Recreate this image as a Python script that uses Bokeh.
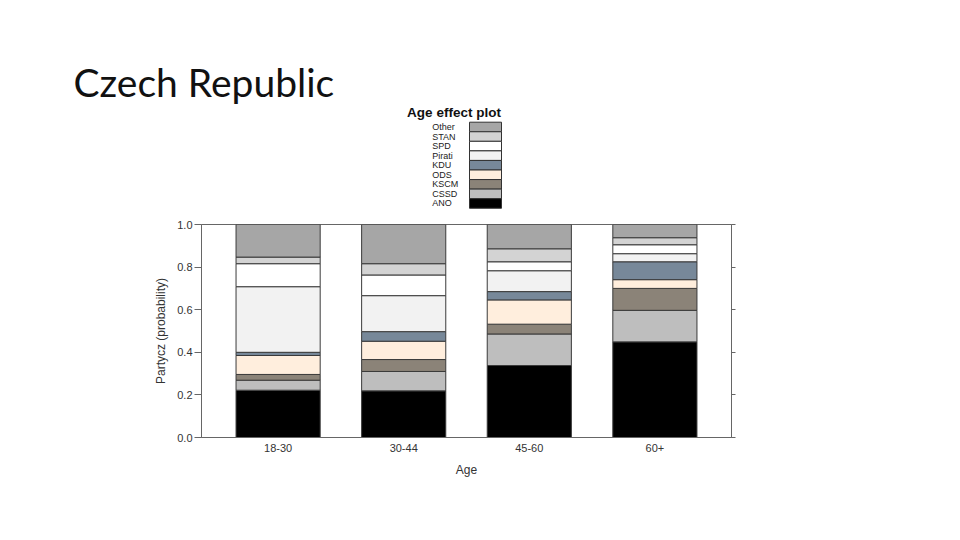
from bokeh.plotting import figure
from bokeh.models import (FactorRange, Range1d, LinearAxis, FixedTicker, PrintfTickFormatter,
                          ColumnDataSource)
from bokeh.layouts import column, row
from bokeh.core.properties import value
from bokeh.embed import file_html
from bokeh.resources import INLINE

# ---------------- data ----------------
ages = ["18-30", "30-44", "45-60", "60+"]
parties = ["ANO", "CSSD", "KSCM", "ODS", "KDU", "Pirati", "SPD", "STAN", "Other"]
party_colors = ["#000000", "#bebebe", "#8b8378", "#ffeedd", "#778899",
                "#f2f2f2", "#ffffff", "#d3d3d3", "#a6a6a6"]

ano    = [0.222, 0.219, 0.338, 0.449]
cssd   = [0.047, 0.091, 0.148, 0.148]
kscm   = [0.027, 0.056, 0.046, 0.103]
ods    = [0.089, 0.086, 0.114, 0.041]
kdu    = [0.015, 0.045, 0.039, 0.084]
pirati = [0.308, 0.169, 0.098, 0.038]
spd    = [0.108, 0.097, 0.042, 0.042]
stan   = [0.031, 0.053, 0.061, 0.033]
other  = [0.153, 0.184, 0.114, 0.062]

y_ticks = [0.0, 0.2, 0.4, 0.6, 0.8, 1.0]

slide_title = "Czech Republic"
plot_title = "Age effect plot"
y_label = "Partycz (probability)"
x_label = "Age"

W = 944
TOP_H = 214

# ---------------- top: title and legend (page-pixel coordinates) ----------------
top = figure(width=W, height=TOP_H, x_range=Range1d(0, W), y_range=Range1d(TOP_H, 0),
             output_backend="svg", toolbar_location=None, min_border=0,
             x_axis_location=None, y_axis_location=None, outline_line_color=None)
top.grid.visible = False

top.text(x=[73], y=[81], text=[slide_title], text_font=value("Lato"),
         text_font_size="39px", text_baseline="middle", text_color="#111111")
top.text(x=[453.5], y=[112], text=[plot_title], text_font=value("Liberation Sans"),
         text_font_size="13.5px", text_font_style="bold", text_align="center",
         text_baseline="middle", text_color="#111111")

leg_labels = parties[::-1]
leg_colors = party_colors[::-1]
row_h = 9.56
row0 = 121.7
tops = [row0 + i * row_h for i in range(len(leg_labels))]
bots = [t + row_h for t in tops]
mids = [t + row_h / 2 for t in tops]
top.quad(left=469, right=501, top=tops, bottom=bots, fill_color=leg_colors,
         line_color="#333333", line_width=1)
top.text(x=[431.7] * len(leg_labels), y=mids, text=leg_labels,
         text_font=value("Liberation Sans"), text_font_size="9px",
         text_baseline="middle", text_color="#222222")

# ---------------- bottom: stacked bar chart ----------------
src = ColumnDataSource(dict(age=ages, ANO=ano, CSSD=cssd, KSCM=kscm, ODS=ods, KDU=kdu,
                            Pirati=pirati, SPD=spd, STAN=stan, Other=other))

p = figure(x_range=FactorRange(factors=ages, range_padding=0.11, range_padding_units="absolute"),
           y_range=Range1d(0, 1), width=W, height=310, output_backend="svg",
           toolbar_location=None, min_border_left=201, min_border_right=213,
           min_border_top=10, min_border_bottom=87)
p.grid.visible = False
p.outline_line_color = "#666666"
p.outline_line_width = 1

p.vbar_stack(parties, x="age", width=0.67, source=src, fill_color=party_colors,
             line_color="#3a3a3a", line_width=1)

yl = p.yaxis[0]
yl.ticker = FixedTicker(ticks=y_ticks)
yl.formatter = PrintfTickFormatter(format="%.1f")
yl.major_tick_out = 7
yl.major_tick_in = 0
yl.minor_tick_line_color = None
yl.major_label_standoff = 2
yl.axis_line_color = "#666666"
yl.major_tick_line_color = "#666666"
yl.major_label_text_font = "Liberation Sans"
yl.major_label_text_font_size = "11px"
yl.major_label_text_color = "#333333"
yl.axis_label = y_label
yl.axis_label_text_font = "Liberation Sans"
yl.axis_label_text_font_size = "12px"
yl.axis_label_text_font_style = "normal"
yl.axis_label_text_color = "#333333"
yl.axis_label_standoff = 6

yr = LinearAxis(ticker=FixedTicker(ticks=y_ticks))
yr.major_tick_out = 4
yr.major_tick_in = 0
yr.minor_tick_line_color = None
yr.major_label_text_color = None
yr.axis_line_color = "#666666"
yr.major_tick_line_color = "#666666"
p.add_layout(yr, "right")

xa = p.xaxis[0]
xa.major_tick_out = 0
xa.major_tick_in = 0
xa.major_tick_line_color = None
xa.axis_line_color = "#666666"
xa.major_label_standoff = 6
xa.major_label_text_font = "Liberation Sans"
xa.major_label_text_font_size = "11px"
xa.major_label_text_color = "#333333"
xa.axis_label = x_label
xa.axis_label_text_font = "Liberation Sans"
xa.axis_label_text_font_size = "12px"
xa.axis_label_text_font_style = "normal"
xa.axis_label_text_color = "#333333"
xa.axis_label_standoff = 8

layout = column(row(top), p, spacing=0)
open("out.html", "w").write(file_html(layout, INLINE))
